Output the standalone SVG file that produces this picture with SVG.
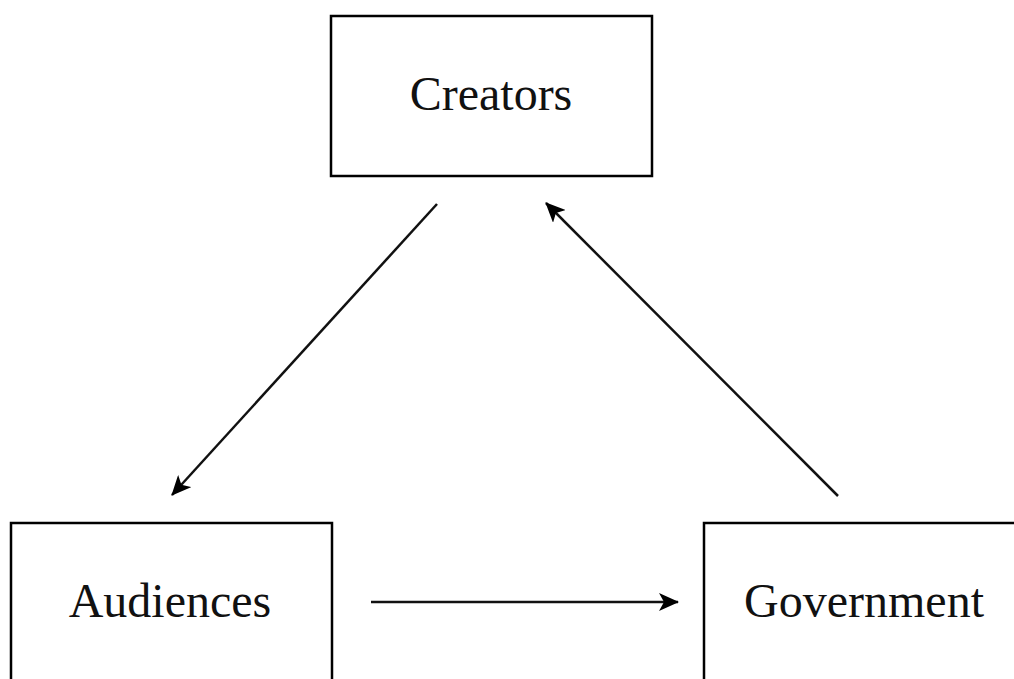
<svg xmlns="http://www.w3.org/2000/svg" width="1014" height="679" viewBox="0 0 1014 679">
  <style>
    .box { fill: #ffffff; stroke: #000000; stroke-width: 2.5; }
    .label { font-family: "Liberation Serif", "Times New Roman", serif; font-size: 48px; fill: #111111; text-anchor: middle; }
    .conn { stroke: #111111; stroke-width: 2.5; fill: none; marker-end: url(#arrow); }
  </style>
  <defs>
    <marker id="arrow" markerUnits="userSpaceOnUse" markerWidth="20" markerHeight="18" viewBox="0 0 20 18" refX="19" refY="9" orient="auto">
      <path d="M0,0 L20,9 L0,18 L5,9 Z" fill="#000000"/>
    </marker>
  </defs>
  <rect width="1014" height="679" fill="#ffffff"/>
  <g id="creators">
    <rect class="box" x="331" y="16" width="321" height="160"/>
    <text class="label" x="491" y="110">Creators</text>
  </g>
  <g id="audiences">
    <rect class="box" x="11" y="523" width="321" height="180"/>
    <text class="label" x="170" y="617">Audiences</text>
  </g>
  <g id="government">
    <rect class="box" x="704" y="523" width="321" height="180"/>
    <text class="label" x="864" y="617">Government</text>
  </g>
  <g id="connectors">
    <line class="conn" x1="437" y1="204" x2="172" y2="495"/>
    <line class="conn" x1="838" y1="496" x2="546" y2="203"/>
    <line class="conn" x1="371" y1="602" x2="678" y2="602"/>
  </g>
</svg>
